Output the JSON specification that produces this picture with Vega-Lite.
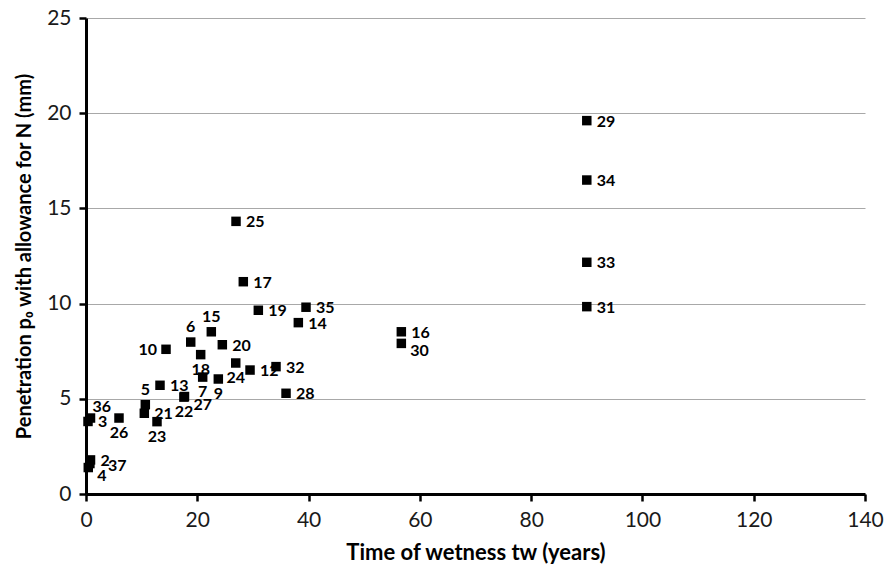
{
  "$schema": "https://vega.github.io/schema/vega-lite/v6.json",
  "width": 779,
  "height": 476,
  "autosize": {"type": "none"},
  "padding": {"left": 86, "top": 18, "right": 20, "bottom": 84},
  "background": "white",
  "config": {
    "view": {"stroke": null},
    "font": "Lato"
  },
  "data": {
    "values": [
      {"tw": 0.81, "p0": 1.79, "id": "2", "pos": "r"},
      {"tw": 0.7, "p0": 1.6, "id": "37", "pos": "rr"},
      {"tw": 0.41, "p0": 1.39, "id": "4", "pos": "br"},
      {"tw": 0.81, "p0": 3.99, "id": "36", "pos": "ar"},
      {"tw": 0.36, "p0": 3.81, "id": "3", "pos": "r"},
      {"tw": 5.93, "p0": 3.99, "id": "26", "pos": "b"},
      {"tw": 10.66, "p0": 4.69, "id": "5", "pos": "a"},
      {"tw": 10.48, "p0": 4.24, "id": "21", "pos": "r"},
      {"tw": 12.76, "p0": 3.8, "id": "23", "pos": "b"},
      {"tw": 13.3, "p0": 5.71, "id": "13", "pos": "r"},
      {"tw": 14.38, "p0": 7.6, "id": "10", "pos": "l"},
      {"tw": 17.6, "p0": 5.09, "id": "22", "pos": "b"},
      {"tw": 17.7, "p0": 5.12, "id": "27", "pos": "br"},
      {"tw": 18.82, "p0": 7.98, "id": "6", "pos": "a"},
      {"tw": 20.61, "p0": 7.32, "id": "18", "pos": "b"},
      {"tw": 20.97, "p0": 6.14, "id": "7", "pos": "b"},
      {"tw": 22.52, "p0": 8.52, "id": "15", "pos": "a"},
      {"tw": 23.78, "p0": 6.04, "id": "9", "pos": "b"},
      {"tw": 24.5, "p0": 7.84, "id": "20", "pos": "r"},
      {"tw": 26.91, "p0": 6.88, "id": "24", "pos": "b"},
      {"tw": 26.96, "p0": 14.32, "id": "25", "pos": "r"},
      {"tw": 28.27, "p0": 11.15, "id": "17", "pos": "r"},
      {"tw": 30.97, "p0": 9.65, "id": "19", "pos": "r"},
      {"tw": 29.48, "p0": 6.51, "id": "12", "pos": "r"},
      {"tw": 34.15, "p0": 6.69, "id": "32", "pos": "r"},
      {"tw": 35.95, "p0": 5.29, "id": "28", "pos": "r"},
      {"tw": 38.16, "p0": 9.0, "id": "14", "pos": "r"},
      {"tw": 39.54, "p0": 9.81, "id": "35", "pos": "r"},
      {"tw": 56.67, "p0": 8.52, "id": "16", "pos": "r"},
      {"tw": 56.67, "p0": 7.91, "id": "30", "pos": "br"},
      {"tw": 90.0, "p0": 19.61, "id": "29", "pos": "r"},
      {"tw": 90.0, "p0": 16.49, "id": "34", "pos": "r"},
      {"tw": 90.0, "p0": 12.17, "id": "33", "pos": "r"},
      {"tw": 90.0, "p0": 9.84, "id": "31", "pos": "r"}
    ]
  },
  "encoding": {
    "x": {
      "field": "tw",
      "type": "quantitative",
      "scale": {"domain": [0, 140], "nice": false, "zero": true},
      "axis": {
        "title": "Time of wetness tw (years)",
        "values": [0, 20, 40, 60, 80, 100, 120, 140],
        "grid": false,
        "domainColor": "black",
        "domainWidth": 3,
        "tickColor": "black",
        "tickWidth": 2.5,
        "tickSize": 7,
        "labelFont": "Lato",
        "labelFontSize": 21,
        "labelColor": "#1a1a1a",
        "labelPadding": 8,
        "labelFlush": false,
        "titleFont": "Lato",
        "titleFontSize": 22,
        "titleFontWeight": "bold",
        "titleColor": "black",
        "titlePadding": 12
      }
    },
    "y": {
      "field": "p0",
      "type": "quantitative",
      "scale": {"domain": [0, 25], "nice": false},
      "axis": {
        "title": "Penetration p₀  with allowance for N (mm)",
        "values": [0, 5, 10, 15, 20, 25],
        "grid": true,
        "gridColor": "#a8a8a8",
        "gridWidth": 1,
        "domainColor": "black",
        "domainWidth": 3,
        "tickColor": "black",
        "tickWidth": 2.5,
        "tickSize": 7,
        "labelFont": "Lato",
        "labelFontSize": 21,
        "labelColor": "#1a1a1a",
        "labelPadding": 8,
        "labelFlush": false,
        "titleFont": "Lato",
        "titleFontSize": 20,
        "titleFontWeight": "bold",
        "titleColor": "black",
        "titlePadding": 12
      }
    }
  },
  "layer": [
    {
      "mark": {"type": "point", "shape": "square", "filled": true, "size": 90, "color": "black", "opacity": 1}
    },
    {
      "transform": [{"filter": "datum.pos === 'r'"}],
      "mark": {"type": "text", "align": "left", "baseline": "middle", "dx": 10, "dy": 1, "fontSize": 16, "fontWeight": "bold", "color": "black"},
      "encoding": {"text": {"field": "id"}}
    },
    {
      "transform": [{"filter": "datum.pos === 'rr'"}],
      "mark": {"type": "text", "align": "left", "baseline": "middle", "dx": 18, "dy": 2, "fontSize": 16, "fontWeight": "bold", "color": "black"},
      "encoding": {"text": {"field": "id"}}
    },
    {
      "transform": [{"filter": "datum.pos === 'l'"}],
      "mark": {"type": "text", "align": "right", "baseline": "middle", "dx": -9, "dy": 1, "fontSize": 16, "fontWeight": "bold", "color": "black"},
      "encoding": {"text": {"field": "id"}}
    },
    {
      "transform": [{"filter": "datum.pos === 'a'"}],
      "mark": {"type": "text", "align": "center", "baseline": "middle", "dy": -15, "fontSize": 16, "fontWeight": "bold", "color": "black"},
      "encoding": {"text": {"field": "id"}}
    },
    {
      "transform": [{"filter": "datum.pos === 'b'"}],
      "mark": {"type": "text", "align": "center", "baseline": "middle", "dy": 15, "fontSize": 16, "fontWeight": "bold", "color": "black"},
      "encoding": {"text": {"field": "id"}}
    },
    {
      "transform": [{"filter": "datum.pos === 'ar'"}],
      "mark": {"type": "text", "align": "left", "baseline": "middle", "dx": 2, "dy": -11, "fontSize": 16, "fontWeight": "bold", "color": "black"},
      "encoding": {"text": {"field": "id"}}
    },
    {
      "transform": [{"filter": "datum.pos === 'br'"}],
      "mark": {"type": "text", "align": "left", "baseline": "middle", "dx": 9, "dy": 8, "fontSize": 16, "fontWeight": "bold", "color": "black"},
      "encoding": {"text": {"field": "id"}}
    }
  ]
}
